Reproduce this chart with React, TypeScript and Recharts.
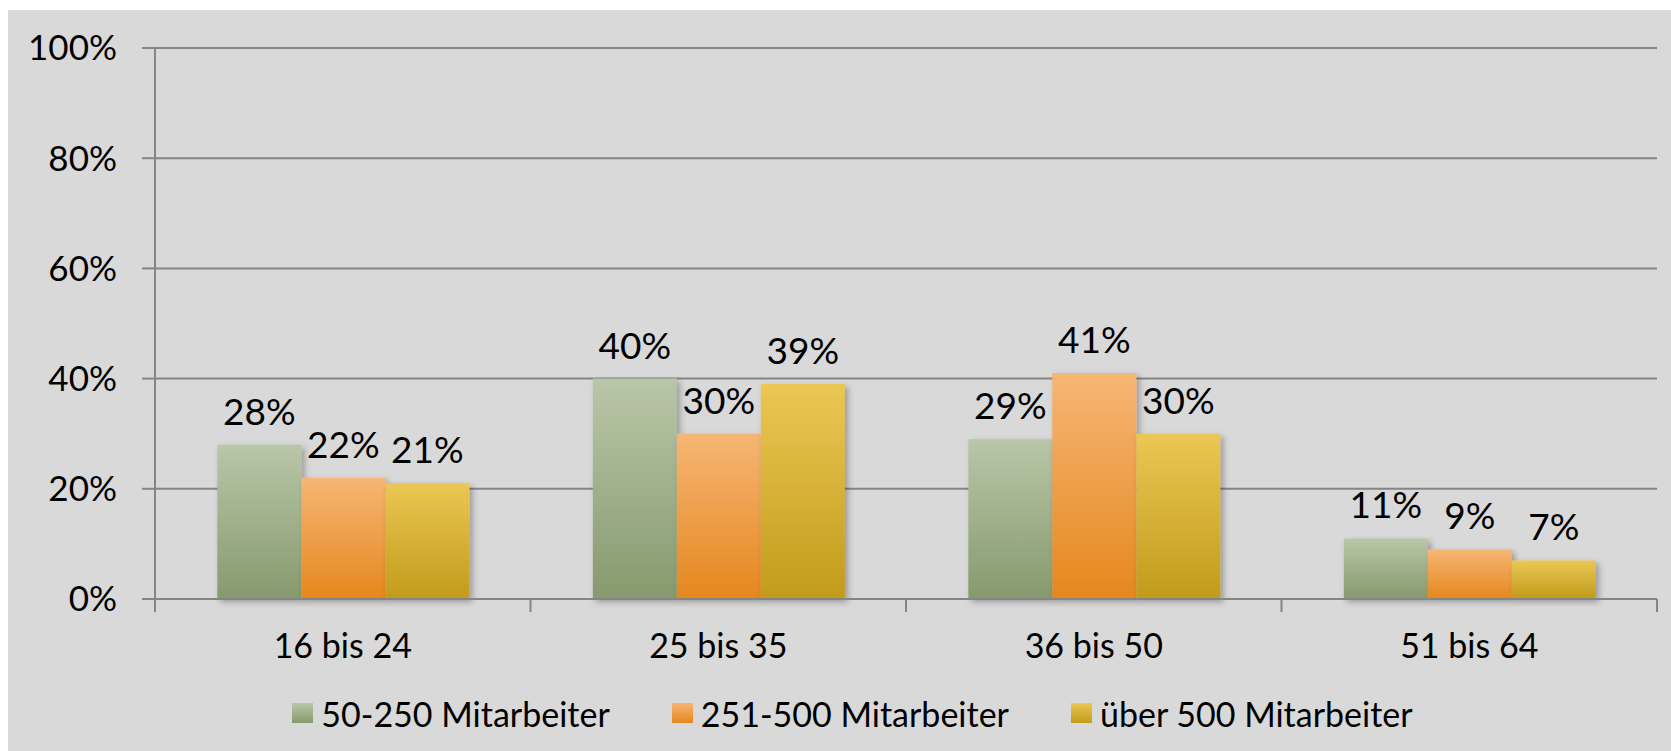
import { BarChart, Bar, XAxis, YAxis, CartesianGrid, Legend, LabelList } from 'recharts';

const categories = ['16 bis 24', '25 bis 35', '36 bis 50', '51 bis 64'];
const small = [28, 40, 29, 11];
const medium = [22, 30, 41, 9];
const large = [21, 39, 30, 7];
const yTicks = [0, 20, 40, 60, 80, 100];

const SERIES = [
  { key: 'small', name: '50-250 Mitarbeiter', top: '#b9c6a9', bottom: '#869a6d' },
  { key: 'medium', name: '251-500 Mitarbeiter', top: '#f6b675', bottom: '#e5871d' },
  { key: 'large', name: 'über 500 Mitarbeiter', top: '#ebc754', bottom: '#c29b1b' },
];

const data = categories.map((cat, i) => ({
  cat,
  small: small[i],
  medium: medium[i],
  large: large[i],
}));

const W = 1663;
const H = 741;
const Y_W = 147;
const M_RIGHT = 14;
const BAND = (W - Y_W - M_RIGHT) / categories.length;
const TICK_SIZE = 13;
const TICK_MARGIN = 22;
const FONT = 'Lato, "Open Sans", sans-serif';
const GRID = '#858585';

function XTick(props: any) {
  const { x, y, payload, index } = props;
  // ticks sit on the category boundaries, labels in the middle
  const left = x - BAND / 2;
  const right = x + BAND / 2;
  const y1 = y - TICK_SIZE - TICK_MARGIN;
  const y2 = y - TICK_MARGIN;
  return (
    <g>
      <line x1={left} x2={left} y1={y1} y2={y2} stroke={GRID} strokeWidth={2} />
      {index === categories.length - 1 && (
        <line x1={right} x2={right} y1={y1} y2={y2} stroke={GRID} strokeWidth={2} />
      )}
      <text x={x} y={y} dy="0.71em" textAnchor="middle" fill="#000" fontSize={34} fontFamily={FONT}>
        {payload.value}
      </text>
    </g>
  );
}

function renderLegend() {
  return (
    <div
      style={{
        display: 'flex',
        justifyContent: 'center',
        gap: 62,
        paddingLeft: 40,
        fontFamily: FONT,
        fontSize: 34,
        color: '#000',
        height: 40,
        alignItems: 'center',
      }}
    >
      {SERIES.map((s) => (
        <span key={s.key} style={{ display: 'flex', alignItems: 'center' }}>
          <span
            style={{
              display: 'inline-block',
              width: 21,
              height: 20,
              marginRight: 8,
              background: `linear-gradient(${s.top}, ${s.bottom})`,
            }}
          />
          {s.name}
        </span>
      ))}
    </div>
  );
}

export default function App() {
  return (
    <div
      style={{
        position: 'absolute',
        left: 8,
        top: 10,
        width: W,
        height: H,
        background: '#d9d9d9',
        overflow: 'hidden',
      }}
    >
      <BarChart
        width={W}
        height={H}
        data={data}
        margin={{ top: 38, right: M_RIGHT, bottom: 18, left: 0 }}
        barCategoryGap="16.6%"
        barGap={0}
      >
        <defs>
          {SERIES.map((s) => (
            <linearGradient key={s.key} id={`grad-${s.key}`} x1="0" y1="0" x2="0" y2="1">
              <stop offset="0%" stopColor={s.top} />
              <stop offset="100%" stopColor={s.bottom} />
            </linearGradient>
          ))}
          <filter id="barShadow" x="-10%" y="-10%" width="130%" height="130%">
            <feDropShadow dx="3" dy="3" stdDeviation="3" floodColor="#000" floodOpacity="0.3" />
          </filter>
        </defs>
        <CartesianGrid vertical={false} stroke={GRID} strokeWidth={2} />
        <XAxis
          dataKey="cat"
          height={94}
          tick={<XTick />}
          tickLine={false}
          tickSize={TICK_SIZE}
          tickMargin={TICK_MARGIN}
          axisLine={{ stroke: GRID, strokeWidth: 2 }}
          interval={0}
        />
        <YAxis
          width={Y_W}
          domain={[0, 100]}
          ticks={yTicks}
          tickFormatter={(v) => `${v}%`}
          tick={{ fontSize: 35, fill: '#000', fontFamily: FONT }}
          tickSize={13}
          tickMargin={25}
          tickLine={{ stroke: GRID, strokeWidth: 2 }}
          axisLine={{ stroke: GRID, strokeWidth: 2 }}
        />
        <Legend verticalAlign="bottom" align="center" content={renderLegend} />
        {SERIES.map((s) => (
          <Bar
            key={s.key}
            dataKey={s.key}
            name={s.name}
            fill={`url(#grad-${s.key})`}
            filter="url(#barShadow)"
            isAnimationActive={false}
          >
            <LabelList
              dataKey={s.key}
              position="top"
              offset={20}
              formatter={(v: any) => `${v}%`}
              fill="#000"
              fontSize={37}
              fontFamily={FONT}
            />
          </Bar>
        ))}
      </BarChart>
    </div>
  );
}
